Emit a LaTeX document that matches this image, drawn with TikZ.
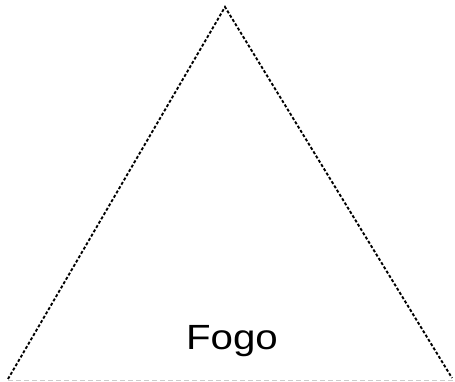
\documentclass[tikz,border=0pt]{standalone}
\usepackage{fontspec}
\setmainfont{Liberation Sans}
\begin{document}
\begin{tikzpicture}[x=1pt,y=1pt,
  edge/.style={draw=black,line width=1.9pt,dash pattern=on 3pt off 2pt},
  base/.style={draw=black!20,line width=1pt,dash pattern=on 5pt off 3pt},
  lbl/.style={font=\fontsize{35}{40}\selectfont,inner sep=0pt,anchor=base,xscale=1.15}]
\useasboundingbox (0,0) rectangle (455,382);
\coordinate (top) at (225,375);
\coordinate (bl) at (8,3);
\coordinate (br) at (452,4);
\coordinate (gl) at (8,1);
\coordinate (gr) at (455,1);
\draw[base] (gl) -- (gr);
\draw[edge] (bl) -- (top) -- (br);
\node[lbl] (fogo) at (232,32) {Fogo};
\end{tikzpicture}
\end{document}
